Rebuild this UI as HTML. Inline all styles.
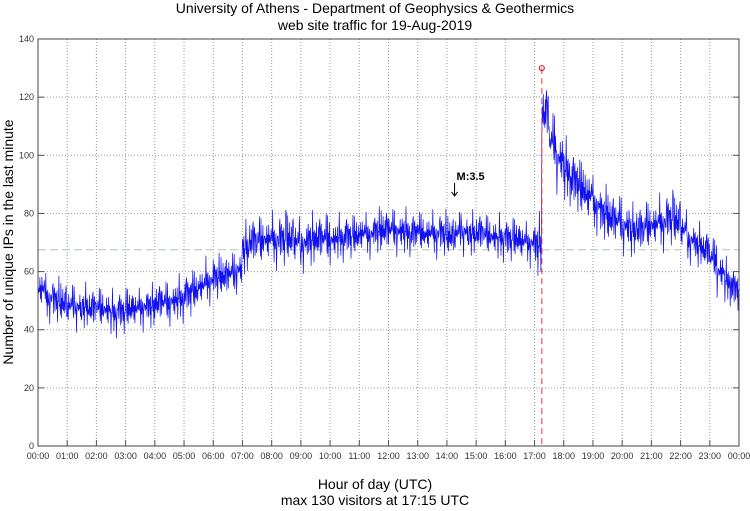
<!DOCTYPE html>
<html><head><meta charset="utf-8"><style>
body{margin:0;background:#fff;width:750px;height:511px;overflow:hidden;font-family:"Liberation Sans",sans-serif}
svg{display:block}
</style></head><body>
<svg id="chart" width="750" height="511" xmlns="http://www.w3.org/2000/svg">
<text x="375" y="13" text-anchor="middle" font-size="14" font-family="Liberation Sans, sans-serif">University of Athens - Department of Geophysics &amp; Geothermics</text>
<text x="375" y="30" text-anchor="middle" font-size="14" font-family="Liberation Sans, sans-serif">web site traffic for 19-Aug-2019</text>
<text transform="translate(13,242) rotate(-90)" text-anchor="middle" font-size="14" font-family="Liberation Sans, sans-serif">Number of unique IPs in the last minute</text>
<text x="375" y="489" text-anchor="middle" font-size="14" font-family="Liberation Sans, sans-serif">Hour of day (UTC)</text>
<text x="375" y="505" text-anchor="middle" font-size="14" font-family="Liberation Sans, sans-serif">max 130 visitors at 17:15 UTC</text>
<g id="grid"></g><g id="series"></g><g id="annot"></g><g id="axes"></g>
</svg>
<script>
const hourLabels=["00:00","01:00","02:00","03:00","04:00","05:00","06:00","07:00","08:00","09:00","10:00","11:00","12:00","13:00","14:00","15:00","16:00","17:00","18:00","19:00","20:00","21:00","22:00","23:00","00:00"];
const yTicks=[0,20,40,60,80,100,120,140];
// quarter-hour mean visitors (96 bins)
const quarterMeans=[54,51,50,49,48,48,48,47,47,47,46,46,47,47,48,48,49,49,50,51,52,53,55,57,58,58,59,61,68,70,70,71,71,71,71,70,70,71,71,71,71,72,72,72,73,73,74,74,74,74,74,73,73,73,73,73,72,73,74,73,73,72,72,72,71,71,70,70,69,114,104,99,95,91,88,86,83,80,78,77,76,74,74,75,76,77,78,77,74,71,69,67,64,60,57,54];
// hourly noise spread (24 bins)
const hourSpread=[5,5,5,5,5,5,5,6,6,6,5,5,5,5,5,5,5,7,7,6,6,6,5,5];
const jitter=[0.2,-0.8,0.5,-0.3,1.4,-0.6,0.1,-1,0.7,-0.2,0.4,-1.5,0.8,-0.4,0.0,-0.7,1,-0.1,0.3,-0.5,1.7,-0.95,0.15,-0.35,0.85,-0.65,0.45,-0.15,0.75,-1.3,0.25,-0.45,0.55,-0.25,0.95,-0.55,0.05,1.2,-0.2,0.6,-0.9,0.35,-0.05,0.65,-1.8,0.1,0.9,-0.3,1.5,-0.75,0.2,-0.1,0.5];
const meanLine=67.5;
const peak={hour:17.25,value:130};
const quake={hour:14.33,value:85,label:"M:3.5"};
const X0=38,X1=739,Y0=446,Y1=39;
const xs=h=>X0+(X1-X0)*h/24;
const ys=v=>Y0-(Y0-Y1)*v/140;
const NS="http://www.w3.org/2000/svg";
function mk(t,a,p){const e=document.createElementNS(NS,t);for(const k in a)e.setAttribute(k,a[k]);p.appendChild(e);return e;}
const grid=document.getElementById('grid'),axes=document.getElementById('axes'),ser=document.getElementById('series'),ann=document.getElementById('annot');
hourLabels.forEach((l,i)=>{const x=xs(i);
 if(i>0&&i<24){const g=mk('line',{x1:x,x2:x,y1:Y1,y2:Y0,stroke:'#999','stroke-width':1,'stroke-dasharray':'1,2'},grid);
 }
 const tk=mk('line',{x1:x,x2:x,y1:Y0,y2:Y0-6,stroke:'#555'},axes);
 
 const t=mk('text',{x:x,y:Y0+13,'text-anchor':'middle','font-size':9,fill:'#333'},axes);t.textContent=l;
 });
yTicks.forEach(v=>{const y=ys(v);
 if(v>0&&v<140){const g=mk('line',{x1:X0,x2:X1,y1:y,y2:y,stroke:'#999','stroke-width':1,'stroke-dasharray':'1,2'},grid);
 }
 mk('line',{x1:X0,x2:X0+6,y1:y,y2:y,stroke:'#555'},axes);mk('line',{x1:X1,x2:X1-6,y1:y,y2:y,stroke:'#555'},axes);
 const t=mk('text',{x:X0-4,y:y+3,'text-anchor':'end','font-size':9,fill:'#333'},axes);t.textContent=v;
 });
const fr=mk('rect',{x:X0,y:Y1,width:X1-X0,height:Y0-Y1,fill:'none',stroke:'#444','stroke-width':1},axes);

const ml=mk('line',{x1:X0,x2:X1,y1:ys(meanLine),y2:ys(meanLine),stroke:'#aca','stroke-dasharray':'8,4'},grid);

let pts=[];
quarterMeans.forEach((m,b)=>{const sp=hourSpread[Math.floor(b/4)];
 for(let j=0;j<15;j++){const v=m+sp*jitter[(b*17+j*3)%jitter.length];pts.push(xs((b*15+j)/60).toFixed(1)+','+ys(v).toFixed(1));}});
const pl=mk('polyline',{points:pts.join(' '),fill:'none',stroke:'#1010f0','stroke-width':0.7},ser);

const pv=mk('line',{x1:xs(peak.hour),x2:xs(peak.hour),y1:ys(peak.value),y2:Y0,stroke:'#e33','stroke-dasharray':'6,4'},ann);

const pc=mk('circle',{cx:xs(peak.hour),cy:ys(peak.value),r:2.5,fill:'none',stroke:'#e00','stroke-width':1},ann);

const qx=xs(quake.hour),qy=ys(quake.value);
const ql=mk('text',{x:qx,y:qy-19,'font-size':11,'font-weight':'bold'},ann);ql.textContent=quake.label;

const qa=mk('path',{d:`M${qx-2},${qy-16} L${qx-2},${qy-3} M${qx-5},${qy-7} L${qx-2},${qy-3} L${qx+1},${qy-7}`,stroke:'#000',fill:'none'},ann);

</script>
</body></html>
